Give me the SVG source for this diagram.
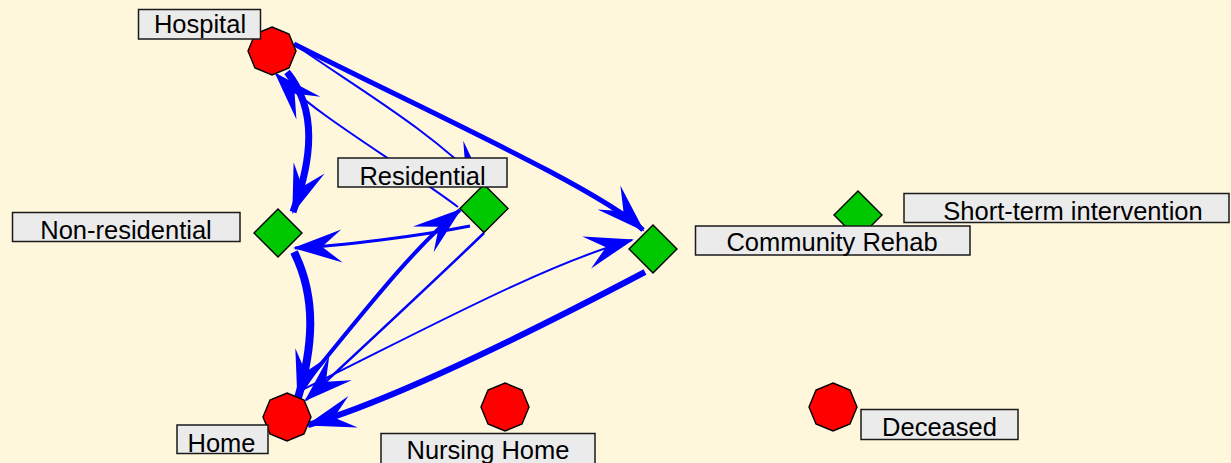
<svg xmlns="http://www.w3.org/2000/svg" width="1231" height="463" viewBox="0 0 1231 463">
  <defs>
    <style>
      .edge { fill: none; stroke: #0000ff; stroke-linecap: butt; stroke-linejoin: round; }
      .oct { fill: #ff0000; stroke: #000; stroke-width: 1.4; }
      .dia { fill: #00c800; stroke: #000; stroke-width: 1.4; }
      .lbl { fill: #ebebeb; stroke: #1a1a1a; stroke-width: 1.5; }
      .txt { font-family: "Liberation Sans", Arial, sans-serif; font-size: 25.5px; fill: #000; text-anchor: middle; }
    </style>
    <!-- barbed arrowhead, fixed size in user units -->
    <marker id="arrow" markerUnits="userSpaceOnUse" viewBox="-52 -20 56 40" refX="0" refY="0" markerWidth="56" markerHeight="40" orient="auto" overflow="visible">
      <path d="M2,0 L-47,-16.5 L-27,0 L-47,16.5 Z" fill="#0000ff"/>
    </marker>
    <polygon id="octagon" points="0,-24 17,-17 24,0 17,17 0,24 -17,17 -24,0 -17,-17"/>
    <polygon id="diamond" points="0,-24 24,0 0,24 -24,0"/>
  </defs>

  <rect width="1231" height="463" fill="#fff7dc"/>

  <g id="connectors">
    <!-- Hospital -> Non-residential -->
    <path class="edge" d="M287,72 C318,110 312,160 293,212" stroke-width="7" marker-end="url(#arrow)"/>
    <!-- Residential -> Hospital -->
    <path class="edge" d="M458,207 C395,160 315,115 276,74" stroke-width="2" marker-end="url(#arrow)"/>
    <!-- Hospital -> Residential -->
    <path class="edge" d="M294,44 C360,90 430,130 484,186" stroke-width="2" marker-end="url(#arrow)"/>
    <!-- Hospital -> Community Rehab -->
    <path class="edge" d="M294,44 C420,108 600,189 643,230" stroke-width="5" marker-end="url(#arrow)"/>
    <!-- Residential -> Non-residential -->
    <path class="edge" d="M470,226 C420,236 340,246 295,248" stroke-width="3" marker-end="url(#arrow)"/>
    <!-- Non-residential -> Home -->
    <path class="edge" d="M294,252 C318,300 312,350 298,398" stroke-width="8" marker-end="url(#arrow)"/>
    <!-- Home -> Residential -->
    <path class="edge" d="M298,392 C350,330 410,250 460,210" stroke-width="4" marker-end="url(#arrow)"/>
    <!-- Residential -> Home -->
    <path class="edge" d="M484,233 C430,285 360,350 306,400" stroke-width="2.5" marker-end="url(#arrow)"/>
    <!-- Home -> Community Rehab -->
    <path class="edge" d="M298,392 C420,332 545,264 632,240" stroke-width="2" marker-end="url(#arrow)"/>
    <!-- Community Rehab -> Home -->
    <path class="edge" d="M645,272 C550,322 400,398 308,425" stroke-width="6" marker-end="url(#arrow)"/>
  </g>

  <g id="hospital">
    <use href="#octagon" class="oct" x="272" y="51"/>
    <rect class="lbl" x="138.5" y="9.5" width="122" height="29.5"/>
    <text class="txt" x="200" y="33">Hospital</text>
  </g>

  <g id="non-residential">
    <use href="#diamond" class="dia" x="278" y="233"/>
    <rect class="lbl" x="12.5" y="212.5" width="227.5" height="29"/>
    <text class="txt" x="126" y="239">Non-residential</text>
  </g>

  <g id="residential">
    <use href="#diamond" class="dia" x="484" y="208.5"/>
    <rect class="lbl" x="338" y="158" width="169" height="29"/>
    <text class="txt" x="422.5" y="184.5">Residential</text>
  </g>

  <g id="short-term-intervention">
    <use href="#diamond" class="dia" x="858" y="215"/>
    <rect class="lbl" x="904" y="193.5" width="325" height="29"/>
    <text class="txt" x="1073" y="220">Short-term intervention</text>
  </g>

  <g id="community-rehab">
    <use href="#diamond" class="dia" x="653" y="249"/>
    <rect class="lbl" x="695.5" y="226" width="274.5" height="29"/>
    <text class="txt" x="832" y="251">Community Rehab</text>
  </g>

  <g id="home">
    <use href="#octagon" class="oct" x="287" y="417"/>
    <rect class="lbl" x="177" y="425" width="91" height="28.5"/>
    <text class="txt" x="221.5" y="451.5">Home</text>
  </g>

  <g id="nursing-home">
    <use href="#octagon" class="oct" x="505" y="407"/>
    <rect class="lbl" x="381" y="433.5" width="214" height="32"/>
    <text class="txt" x="488" y="458.5">Nursing Home</text>
  </g>

  <g id="deceased">
    <use href="#octagon" class="oct" x="833" y="407"/>
    <rect class="lbl" x="861" y="409.5" width="157" height="30"/>
    <text class="txt" x="939.5" y="436">Deceased</text>
  </g>
</svg>
